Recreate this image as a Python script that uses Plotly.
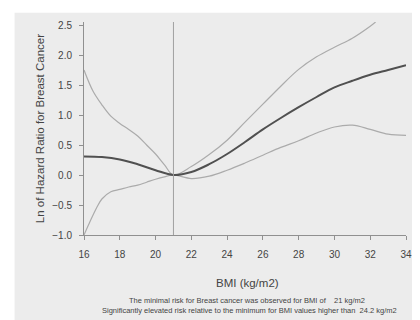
import plotly.graph_objects as go

# BMI grid and curves
bmi_est = [16, 17, 18, 19, 20, 21, 22, 23, 24, 25, 26, 27, 28, 29, 30, 31, 32, 33, 34]
ln_hr = [0.31, 0.30, 0.26, 0.18, 0.08, 0.00, 0.05, 0.18, 0.35, 0.55, 0.76, 0.95, 1.13, 1.30, 1.46, 1.57, 1.67, 1.75, 1.83]

bmi_upper = [16, 16.5, 17, 17.5, 18, 18.5, 19, 19.5, 20, 20.5, 21, 22, 23, 24, 25, 26, 27, 28, 29, 30, 31, 32, 32.3]
upper_ci = [1.75, 1.40, 1.17, 0.98, 0.86, 0.76, 0.65, 0.50, 0.35, 0.17, 0.00, 0.14, 0.34, 0.58, 0.88, 1.18, 1.48, 1.76, 1.97, 2.13, 2.28, 2.48, 2.55]

bmi_lower = [16, 16.3, 16.7, 17, 17.5, 18, 18.5, 19, 19.5, 20, 20.5, 21, 22, 23, 24, 25, 26, 27, 28, 29, 30, 31, 32, 33, 34]
lower_ci = [-1.0, -0.8, -0.55, -0.40, -0.28, -0.24, -0.20, -0.17, -0.12, -0.07, -0.03, 0.0, -0.06, -0.02, 0.08, 0.20, 0.33, 0.46, 0.57, 0.70, 0.80, 0.83, 0.76, 0.68, 0.66]

min_risk_bmi = 21
x_ticks = [16, 18, 20, 22, 24, 26, 28, 30, 32, 34]
y_ticks = [-1.0, -0.5, 0.0, 0.5, 1.0, 1.5, 2.0, 2.5]

BG = "#ececec"
TXT = "#444444"
FONT = "Liberation Sans, Arial, sans-serif"

# page body has an 8px margin; plot area spans page pixels x 84..404, y 22..227
fig = go.Figure()
fig.add_trace(go.Scatter(x=bmi_upper, y=upper_ci, mode="lines",
                         line=dict(color="#ababab", width=1.2), line_shape="spline", hoverinfo="skip"))
fig.add_trace(go.Scatter(x=bmi_lower, y=lower_ci, mode="lines",
                         line=dict(color="#ababab", width=1.2), line_shape="spline", hoverinfo="skip"))
fig.add_trace(go.Scatter(x=bmi_est, y=ln_hr, mode="lines",
                         line=dict(color="#505050", width=2), line_shape="spline", hoverinfo="skip"))

fig.add_shape(type="line", xref="x", yref="paper", x0=min_risk_bmi, x1=min_risk_bmi, y0=0, y1=1,
              line=dict(color="#a0a0a0", width=1))

# white border strips (top and left) around the grey panel
fig.add_shape(type="rect", xref="paper", yref="paper", x0=-0.3, x1=(15 - 84) / 320, y0=-0.5, y1=1.2,
              fillcolor="white", line=dict(width=0), layer="below")
fig.add_shape(type="rect", xref="paper", yref="paper", x0=-0.3, x1=1.1, y0=(227 - 13) / 205, y1=1.2,
              fillcolor="white", line=dict(width=0), layer="below")

fig.update_layout(
    width=412, height=312,
    margin=dict(l=76, r=8, t=14, b=85),
    paper_bgcolor=BG, plot_bgcolor=BG,
    showlegend=False,
    font=dict(family=FONT, size=10, color=TXT),
    xaxis=dict(range=[16, 34], tickvals=x_ticks, ticktext=[str(v) for v in x_ticks],
               showgrid=False, zeroline=False, showline=True, linecolor="#909090", linewidth=1,
               ticks="outside", ticklen=4, tickcolor="#909090", ticklabelstandoff=6,
               tickfont=dict(size=10, color=TXT)),
    yaxis=dict(range=[-1.0, 2.55], tickvals=y_ticks, tickformat=".1f",
               showgrid=False, zeroline=False, showline=True, linecolor="#909090", linewidth=1,
               ticks="outside", ticklen=4, tickcolor="#909090", ticklabelstandoff=5,
               tickfont=dict(size=10, color=TXT)),
)

fig.add_annotation(text="Ln of Hazard Ratio for Breast Cancer", xref="paper", yref="paper",
                   x=(32 - 84) / 320, y=0.5, textangle=-90, showarrow=False,
                   font=dict(size=11.5, color=TXT))
fig.add_annotation(text="BMI (kg/m2)", xref="paper", yref="paper",
                   x=(246 - 84) / 320, y=(227 - 281) / 205, showarrow=False,
                   font=dict(size=11.5, color=TXT))
fig.add_annotation(text="The minimal risk for Breast cancer was observed for BMI of&nbsp;&nbsp;&nbsp;&nbsp;21 kg/m2",
                   xref="paper", yref="paper", x=(246 - 84) / 320, y=(227 - 296) / 205,
                   showarrow=False, font=dict(size=7.5, color=TXT))
fig.add_annotation(text="Significantly elevated risk relative to the minimum for BMI values higher than&nbsp;&nbsp;24.2 kg/m2",
                   xref="paper", yref="paper", x=(248 - 84) / 320, y=(227 - 306) / 205,
                   showarrow=False, font=dict(size=7.5, color=TXT))

fig.write_html("out.html")
